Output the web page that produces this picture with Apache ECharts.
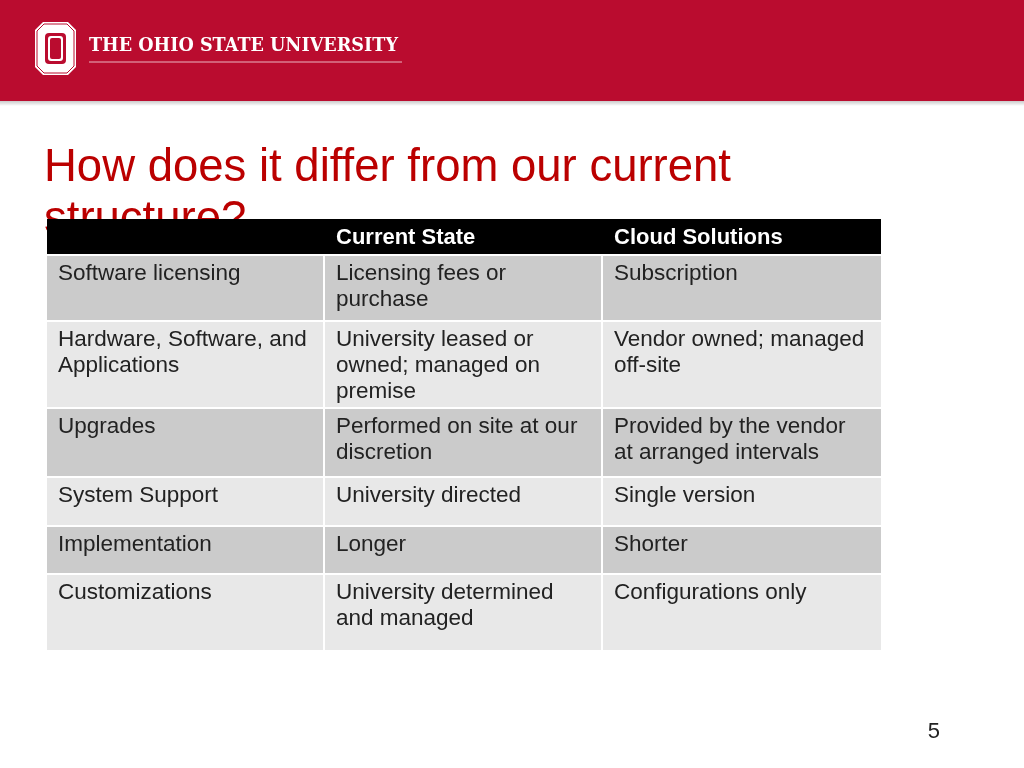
<!DOCTYPE html>
<html><head><meta charset="utf-8">
<script src="https://cdn.jsdelivr.net/npm/echarts@6/dist/echarts.min.js"></script>
<style>html,body{margin:0;padding:0;background:#fff}#c{width:1024px;height:768px}</style>
</head><body><div id="c"></div>
<script>
const headers = ['', 'Current State', 'Cloud Solutions'];
const col1 = [['Software licensing'], ['Hardware, Software, and','Applications'], ['Upgrades'], ['System Support'], ['Implementation'], ['Customizations']];
const col2 = [['Licensing fees or','purchase'], ['University leased or','owned; managed on','premise'], ['Performed on site at our','discretion'], ['University directed'], ['Longer'], ['University determined','and managed']];
const col3 = [['Subscription'], ['Vendor owned; managed','off-site'], ['Provided by the vendor','at arranged intervals'], ['Single version'], ['Shorter'], ['Configurations only']];
const rowHeights = [64, 85, 67, 47, 46, 75];

const chart = echarts.init(document.getElementById('c'));
const g = [];
const F = 'Liberation Sans, Arial, sans-serif';
g.push({type:'rect', shape:{x:0,y:100,width:1024,height:6}, style:{fill:{type:'linear',x:0,y:0,x2:0,y2:1,colorStops:[{offset:0,color:'rgba(0,0,0,0.25)'},{offset:1,color:'rgba(0,0,0,0)'}]}}});
g.push({type:'rect', shape:{x:0,y:0,width:1024,height:101}, style:{fill:'#ba0c2f'}});
const oct = (x,y,w,h,c)=>[[x+c,y],[x+w-c,y],[x+w,y+c],[x+w,y+h-c],[x+w-c,y+h],[x+c,y+h],[x,y+h-c],[x,y+c]];
g.push({type:'polygon', shape:{points:oct(35,22,41,53,8)}, style:{fill:'#fff'}});
g.push({type:'polygon', shape:{points:oct(37,24,37,49,7)}, style:{fill:'#fff',stroke:'#ba0c2f',lineWidth:1}});
g.push({type:'rect', shape:{x:45,y:33,width:21,height:31,r:4}, style:{fill:'#ba0c2f'}});
g.push({type:'rect', shape:{x:48,y:36,width:15,height:25,r:3}, style:{fill:'#fff'}});
g.push({type:'rect', shape:{x:50,y:38,width:11,height:21,r:2}, style:{fill:'#ba0c2f'}});
g.push({type:'text', x:89, y:46, style:{text:'THE OHIO STATE UNIVERSITY', fill:'#fff', font:'bold 17.6px "DejaVu Serif", serif', verticalAlign:'middle'}});
g.push({type:'line', shape:{x1:89,y1:62,x2:402,y2:62}, style:{stroke:'rgba(255,255,255,0.7)',lineWidth:1}});
g.push({type:'text', x:44, y:168, style:{text:'How does it differ from our current', fill:'#bb0000', font:'45.5px '+F, verticalAlign:'middle'}});
g.push({type:'text', x:44, y:220, style:{text:'structure?', fill:'#bb0000', font:'45.5px '+F, verticalAlign:'middle'}});
const xs=[47,325,603], w=[276,276,278];
g.push({type:'rect', shape:{x:47,y:219,width:834,height:35}, style:{fill:'#000'}});
headers.forEach((h,i)=>{ if(h) g.push({type:'text', x:xs[i]+11, y:238, style:{text:h, fill:'#fff', font:'bold 22px '+F, verticalAlign:'middle'}}); });
let y=256;
const cols=[col1,col2,col3];
rowHeights.forEach((rh,r)=>{
  cols.forEach((col,c)=>{
    g.push({type:'rect', shape:{x:xs[c],y:y,width:w[c],height:rh}, style:{fill: r%2===0?'#cbcbcb':'#e8e8e8'}});
    col[r].forEach((t,k)=>g.push({type:'text', x:xs[c]+11, y:y+18+k*26, style:{text:t, fill:'#222', font:'22.5px '+F, verticalAlign:'middle'}}));
  });
  y+=rh+2;
});
g.push({type:'text', x:940, y:732, style:{text:'5', fill:'#222', font:'22px '+F, verticalAlign:'middle', align:'right'}});
chart.setOption({graphic:g});
</script></body></html>
